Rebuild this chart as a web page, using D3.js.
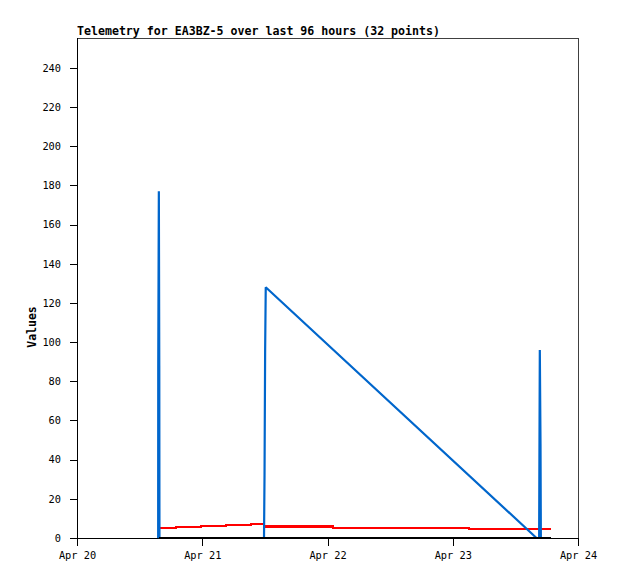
<!DOCTYPE html>
<html>
<head>
<meta charset="utf-8">
<script src="https://cdn.jsdelivr.net/npm/d3@7"></script>
<style>
  body { margin: 0; background: #fff; }
  text { font-family: "DejaVu Sans Mono", monospace; fill: #000; }
</style>
</head>
<body>
<div id="chart"></div>
<script>
// dados (hora local)
var blueTimes = ["2024-04-20 15:33", "2024-04-20 15:34", "2024-04-20 15:41", "2024-04-20 15:46", "2024-04-20 15:48",
  "2024-04-21 11:50", "2024-04-21 11:56", "2024-04-21 12:03", "2024-04-21 12:10",
  "2024-04-23 16:03", "2024-04-23 16:33", "2024-04-23 16:41", "2024-04-23 16:49", "2024-04-23 16:53"];
var blueValues = [0, 88, 177, 88, 0, 0, 32, 96, 128, 0, 0, 96, 48, 0];

var redTimes = ["2024-04-20 15:54", "2024-04-20 18:58", "2024-04-20 23:46", "2024-04-21 04:33", "2024-04-21 09:20",
  "2024-04-21 11:50", "2024-04-22 01:03", "2024-04-23 03:07", "2024-04-23 18:49"];
var redValues = [4.95, 5.46, 5.97, 6.5, 7.0, 5.85, 5.1, 4.6, 4.6];

var blackTimes = ["2024-04-20 15:43", "2024-04-23 18:49"];
var blackValues = [0, 0];

var yTicks = [0, 20, 40, 60, 80, 100, 120, 140, 160, 180, 200, 220, 240];
var xTicks = ["2024-04-20 00:00", "2024-04-21 00:00", "2024-04-22 00:00", "2024-04-23 00:00", "2024-04-24 00:00"];
var title = "Telemetry for EA3BZ-5 over last 96 hours (32 points)";

var parse = d3.timeParse("%Y-%m-%d %H:%M");
var W = 618, H = 579;
var margin = { top: 38, right: 40, bottom: 41, left: 77 };
var width = W - margin.left - margin.right, height = H - margin.top - margin.bottom;

var svg = d3.select("#chart").append("svg").attr("width", W).attr("height", H);
var g = svg.append("g").attr("transform", "translate(" + margin.left + "," + margin.top + ")");

var x = d3.scaleTime().domain([parse(xTicks[0]), parse(xTicks[xTicks.length - 1])]).range([0, width]);
var y = d3.scaleLinear().domain([0, 255.3]).range([height, 0]);

function series(times, values) {
  return times.map(function (t, i) { return { t: parse(t), v: values[i] }; });
}

// borda de cima e da direita
g.append("path")
  .attr("d", "M0,0H" + width + "V" + height)
  .attr("fill", "none").attr("stroke", "#404040").attr("stroke-width", 1)
  .attr("shape-rendering", "crispEdges");

var yAxis = g.append("g")
  .call(d3.axisLeft(y).tickValues(yTicks).tickSize(7).tickPadding(9).tickSizeOuter(0));
var xAxis = g.append("g").attr("transform", "translate(0," + height + ")")
  .call(d3.axisBottom(x).tickValues(xTicks.map(parse)).tickFormat(d3.timeFormat("%b %d")).tickSize(8).tickPadding(6).tickSizeOuter(0));

[yAxis, xAxis].forEach(function (a) {
  a.selectAll("path, line").attr("stroke", "#000").attr("shape-rendering", "crispEdges");
  a.selectAll("text").style("font-size", "10.3px").attr("fill", "#000");
});
yAxis.select(".domain").attr("d", "M0," + height + "V0");

var lineLin = d3.line().x(function (d) { return x(d.t); }).y(function (d) { return y(d.v); });
var lineStep = d3.line().curve(d3.curveStepAfter).x(function (d) { return x(d.t); }).y(function (d) { return y(d.v); });

g.append("path").datum(series(redTimes, redValues))
  .attr("d", lineStep).attr("fill", "none").attr("stroke", "#ff0000").attr("stroke-width", 2.2)
  .attr("shape-rendering", "crispEdges");

g.append("path").datum(series(blueTimes, blueValues))
  .attr("d", lineLin).attr("fill", "none").attr("stroke", "#0066cc").attr("stroke-width", 2.2)
  .attr("stroke-linejoin", "bevel");

g.append("path").datum(series(blackTimes, blackValues))
  .attr("d", lineLin).attr("fill", "none").attr("stroke", "#000").attr("stroke-width", 2.6)
  .attr("shape-rendering", "crispEdges");

svg.append("text")
  .attr("x", margin.left).attr("y", 35)
  .style("font-size", "11.6px").style("font-weight", "bold")
  .text(title);

svg.append("text")
  .attr("transform", "translate(36," + (margin.top + height / 2 + 39) + ") rotate(-90)")
  .attr("text-anchor", "middle")
  .style("font-size", "11.5px").style("font-weight", "bold")
  .text("Values");
</script>
</body>
</html>
